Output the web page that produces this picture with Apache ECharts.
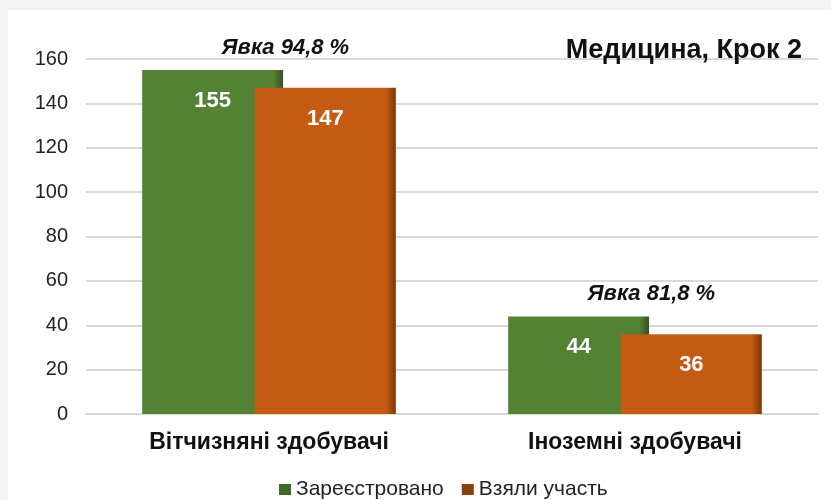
<!DOCTYPE html>
<html>
<head>
<meta charset="utf-8">
<script src="https://cdn.jsdelivr.net/npm/echarts@6/dist/echarts.min.js"></script>
<style>
    html, body { margin: 0; padding: 0; background: #f4f4f4; }
    #main { position: absolute; left: 8px; top: 10px; width: 823px; height: 490px; background: #fff; }
</style>
</head>
<body>
<div id="main"></div>
<script>
    var categories = ['Вітчизняні здобувачі', 'Іноземні здобувачі'];
    var registered = [155, 44];
    var participated = [147, 36];
    var yTicks = [0, 20, 40, 60, 80, 100, 120, 140, 160];

    // явка = взяли участь / зареєстровано
    var turnout = registered.map(function (r, i) {
        return {
            coord: [i, r],
            label: { formatter: 'Явка ' + (participated[i] / r * 100).toFixed(1).replace('.', ',') + ' %' }
        };
    });

    function grad(main, dark) {
        return new echarts.graphic.LinearGradient(0, 0, 1, 0, [
            { offset: 0, color: main },
            { offset: 0.93, color: main },
            { offset: 1, color: dark }
        ]);
    }

    var myChart = echarts.init(document.getElementById('main'));
    var font = 'Liberation Sans, Arial, sans-serif';
    var barLabel = {
        show: true,
        position: 'insideTop',
        distance: 20,
        color: '#fff',
        fontSize: 22,
        fontWeight: 'bold',
        fontFamily: font
    };
    myChart.setOption({
        animation: false,
        textStyle: { fontFamily: font },
        title: {
            text: 'Медицина, Крок 2',
            right: 24,
            top: 22,
            textStyle: { fontSize: 27, fontWeight: 'bold', color: '#111', fontFamily: font }
        },
        legend: {
            top: 464,
            left: 266,
            itemWidth: 12,
            itemHeight: 11,
            itemGap: 18,
            icon: 'rect',
            textStyle: { fontSize: 21, color: '#222', fontFamily: font },
            data: [
                { name: 'Зареєстровано', itemStyle: { color: '#3f6a26' } },
                { name: 'Взяли участь', itemStyle: { color: '#8a3f0e' } }
            ]
        },
        grid: { left: 78, right: 13, top: 49, bottom: 86 },
        xAxis: {
            type: 'category',
            data: categories,
            axisLine: { show: true, lineStyle: { color: '#d9d9d9', width: 2 } },
            axisTick: { show: false },
            axisLabel: { fontSize: 23, fontWeight: 'bold', color: '#111', margin: 17, fontFamily: font }
        },
        yAxis: {
            type: 'value',
            min: yTicks[0],
            max: yTicks[yTicks.length - 1],
            interval: yTicks[1] - yTicks[0],
            axisLine: { show: false },
            axisTick: { show: false },
            axisLabel: { fontSize: 20, color: '#222', margin: 18, fontFamily: font },
            splitLine: { lineStyle: { color: '#d9d9d9', width: 2 } }
        },
        series: [
            {
                name: 'Зареєстровано',
                type: 'bar',
                data: registered,
                barWidth: '38.5%',
                barGap: '-20%',
                itemStyle: { color: grad('#548235', '#34521f') },
                label: barLabel
            },
            {
                name: 'Взяли участь',
                type: 'bar',
                data: participated,
                barWidth: '38.5%',
                itemStyle: { color: grad('#c55a11', '#7a3508') },
                label: barLabel,
                markPoint: {
                    symbol: 'rect',
                    symbolSize: 0,
                    itemStyle: { color: 'transparent' },
                    label: {
                        show: true,
                        position: 'inside',
                        offset: [-40, -22],
                        color: '#111',
                        fontSize: 22,
                        fontWeight: 'bold',
                        fontStyle: 'italic',
                        fontFamily: font
                    },
                    data: turnout
                }
            }
        ]
    });
</script>
</body>
</html>
